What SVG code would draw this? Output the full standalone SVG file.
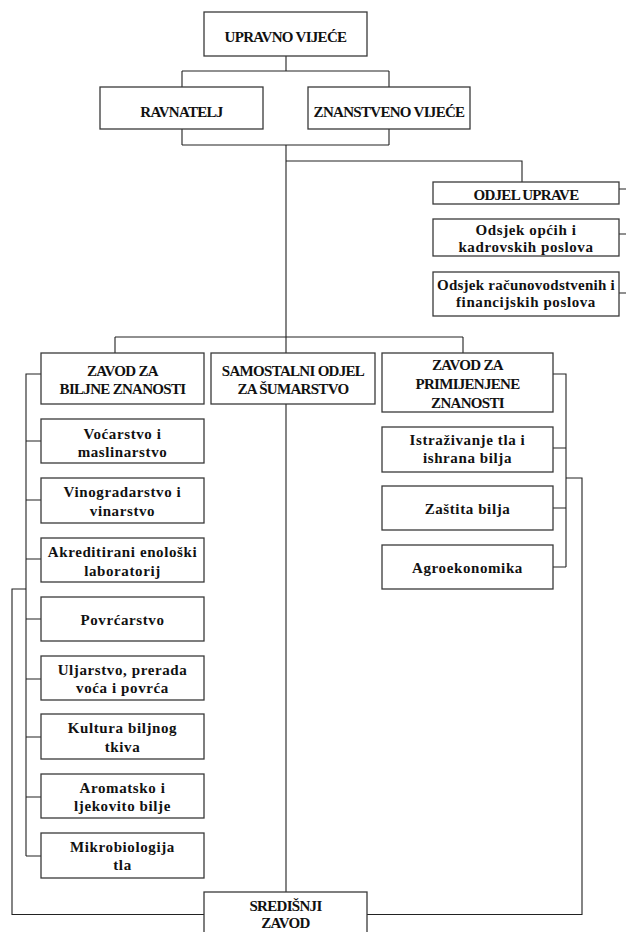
<svg xmlns="http://www.w3.org/2000/svg" width="626" height="932" viewBox="0 0 626 932">
<style>
.box{fill:#fff;stroke:#3a3a3a;stroke-width:1.3}
.ln{fill:none;stroke:#222;stroke-width:1.1}
text{font-weight:bold;fill:#111;text-anchor:middle}
.cap{font-size:15px;letter-spacing:-0.7px}
.low{font-size:15px;letter-spacing:0.6px}
</style>
<rect width="626" height="932" fill="#fff"/>
<g id="connectors">
<path class="ln" d="M286,56V71M182,71H389M182,71V87M389,71V87"/>
<path class="ln" d="M182,129V145M389,129V145M182,145H389"/>
<path class="ln" d="M286,145V353M286,404V892"/>
<path class="ln" d="M286,161H522V182"/>
<path class="ln" d="M619,189H626M619,234H626M619,293H626"/>
<path class="ln" d="M115,337H463M115,337V353M463,337V353"/>
<path class="ln" d="M41,374H26V856M26,441H41M26,500H41M26,559H41M26,619H41M26,679H41M26,737H41M26,797H41M26,856H41"/>
<path class="ln" d="M26,589H12V914.5H204"/>
<path class="ln" d="M553,374H566V567M553,448H566M553,508H566M553,567H566"/>
<path class="ln" d="M566,478H582V914.5H367"/>
</g>
<g font-family="Liberation Serif, Times New Roman, serif">
<g id="upravno-vijece"><rect class="box" x="204" y="12" width="163" height="44"/><text class="cap" x="285.5" y="42">UPRAVNO VIJEĆE</text></g>
<g id="ravnatelj"><rect class="box" x="100" y="87" width="163" height="42"/><text class="cap" x="181.5" y="117">RAVNATELJ</text></g>
<g id="znanstveno-vijece"><rect class="box" x="308" y="87" width="162" height="42"/><text class="cap" x="389" y="117">ZNANSTVENO VIJEĆE</text></g>
<g id="odjel-uprave"><rect class="box" x="433" y="182" width="186" height="22"/><text class="cap" x="526" y="200">ODJEL UPRAVE</text></g>
<g id="odsjek-opcih"><rect class="box" x="433" y="219" width="186" height="37"/><text class="low" x="526" y="235">Odsjek općih i</text><text class="low" x="526" y="252">kadrovskih poslova</text></g>
<g id="odsjek-racunovodstvenih"><rect class="box" x="433" y="272" width="186" height="44"/><text class="low" x="526" y="290" style="letter-spacing:0.25px">Odsjek računovodstvenih i</text><text class="low" x="526" y="307">financijskih poslova</text></g>
<g id="zavod-biljne"><rect class="box" x="41" y="353" width="163" height="51"/><text class="cap" x="122.5" y="376">ZAVOD ZA</text><text class="cap" x="122.5" y="394">BILJNE ZNANOSTI</text></g>
<g id="samostalni-odjel"><rect class="box" x="211" y="353" width="164" height="51"/><text class="cap" x="293" y="376">SAMOSTALNI ODJEL</text><text class="cap" x="293" y="394">ZA ŠUMARSTVO</text></g>
<g id="zavod-primijenjene"><rect class="box" x="382" y="353" width="171" height="59"/><text class="cap" x="467.5" y="370">ZAVOD ZA</text><text class="cap" x="467.5" y="389">PRIMIJENJENE</text><text class="cap" x="467.5" y="408">ZNANOSTI</text></g>
<g id="vocarstvo"><rect class="box" x="41" y="419" width="163" height="44"/><text class="low" x="122.5" y="439">Voćarstvo i</text><text class="low" x="122.5" y="457">maslinarstvo</text></g>
<g id="vinogradarstvo"><rect class="box" x="41" y="478" width="163" height="45"/><text class="low" x="122.5" y="497">Vinogradarstvo i</text><text class="low" x="122.5" y="516">vinarstvo</text></g>
<g id="akreditirani"><rect class="box" x="41" y="538" width="163" height="44"/><text class="low" x="122.5" y="557">Akreditirani enološki</text><text class="low" x="122.5" y="576">laboratorij</text></g>
<g id="povrcarstvo"><rect class="box" x="41" y="597" width="163" height="44"/><text class="low" x="122.5" y="625">Povrćarstvo</text></g>
<g id="uljarstvo"><rect class="box" x="41" y="656" width="163" height="44"/><text class="low" x="122.5" y="675">Uljarstvo, prerada</text><text class="low" x="122.5" y="693">voća i povrća</text></g>
<g id="kultura"><rect class="box" x="41" y="714" width="163" height="45"/><text class="low" x="122.5" y="733">Kultura biljnog</text><text class="low" x="122.5" y="752">tkiva</text></g>
<g id="aromatsko"><rect class="box" x="41" y="774" width="163" height="44"/><text class="low" x="122.5" y="793">Aromatsko i</text><text class="low" x="122.5" y="811">ljekovito bilje</text></g>
<g id="mikrobiologija"><rect class="box" x="41" y="833" width="163" height="45"/><text class="low" x="122.5" y="852">Mikrobiologija</text><text class="low" x="122.5" y="870">tla</text></g>
<g id="istrazivanje"><rect class="box" x="382" y="427" width="171" height="45"/><text class="low" x="467.5" y="445">Istraživanje tla i</text><text class="low" x="467.5" y="463">ishrana bilja</text></g>
<g id="zastita"><rect class="box" x="382" y="486" width="171" height="44"/><text class="low" x="467.5" y="514">Zaštita bilja</text></g>
<g id="agroekonomika"><rect class="box" x="382" y="545" width="171" height="44"/><text class="low" x="467.5" y="573">Agroekonomika</text></g>
<g id="sredisnji-zavod"><rect class="box" x="204" y="892" width="163" height="60"/><text class="cap" x="285.5" y="911">SREDIŠNJI</text><text class="cap" x="285.5" y="928">ZAVOD</text></g>
</g>
</svg>
